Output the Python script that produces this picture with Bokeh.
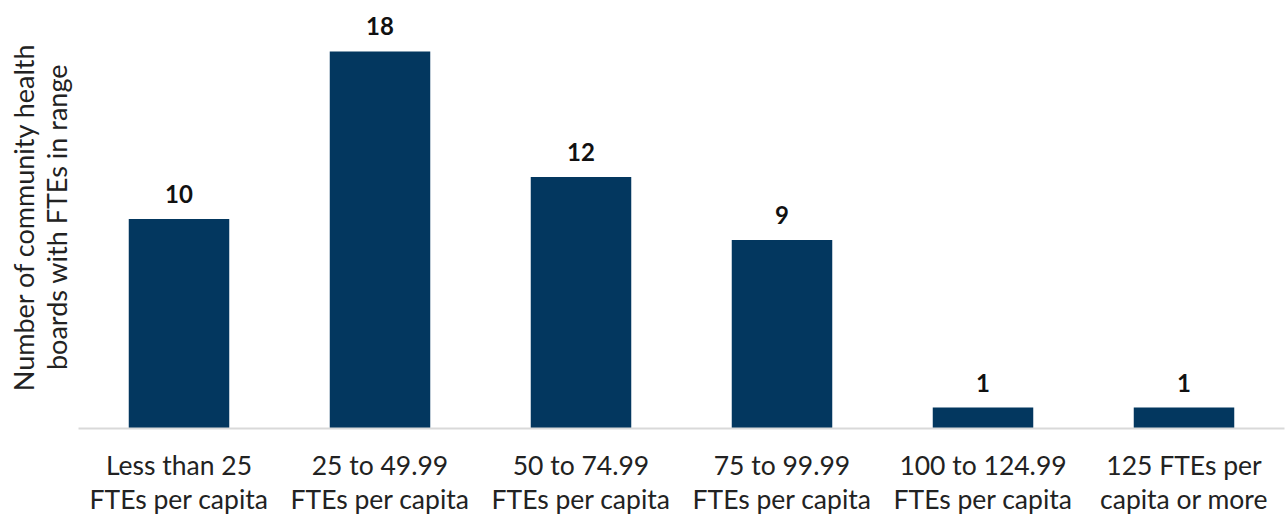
from bokeh.plotting import figure
from bokeh.models import ColumnDataSource, FactorRange, Range1d
from bokeh.core.properties import value
from bokeh.embed import file_html
from bokeh.resources import INLINE

categories = [
    "Less than 25\nFTEs per capita",
    "25 to 49.99\nFTEs per capita",
    "50 to 74.99\nFTEs per capita",
    "75 to 99.99\nFTEs per capita",
    "100 to 124.99\nFTEs per capita",
    "125 FTEs per\ncapita or more",
]
counts = [10, 18, 12, 9, 1, 1]
y_title = "Number of community health\nboards with FTEs in range"

FONT = "Lato"
BAR = "#03375f"

src = ColumnDataSource(dict(cat=categories, n=counts, lbl=[str(v) for v in counts]))

p = figure(
    width=1286, height=518,
    x_range=FactorRange(factors=categories, range_padding=0),
    y_range=Range1d(0, 20.19),
    output_backend="svg", toolbar_location=None,
    min_border_left=78, min_border_right=2, min_border_top=5, min_border_bottom=88,
)
p.outline_line_color = None
p.background_fill_color = "white"
p.border_fill_color = "white"
p.xgrid.visible = False
p.ygrid.visible = False

p.vbar(x="cat", top="n", width=0.5, source=src, fill_color=BAR, line_color=None)
p.text(x="cat", y="n", text="lbl", source=src, text_align="center",
       text_baseline="bottom", y_offset=-16,
       text_font=value(FONT), text_font_style="bold", text_font_size="24px",
       text_color="#111111")

xa = p.xaxis[0]
xa.axis_line_color = "#d9d9d9"
xa.axis_line_width = 2
xa.major_tick_line_color = None
xa.minor_tick_line_color = None
xa.major_label_text_font = FONT
xa.major_label_text_font_size = "26.5px"
xa.major_label_text_color = "#222222"
xa.major_label_standoff = 14
xa.major_label_text_line_height = 1.08

ya = p.yaxis[0]
ya.ticker = []
ya.axis_line_color = None
ya.major_tick_line_color = None
ya.minor_tick_line_color = None
ya.axis_label = y_title
ya.axis_label_text_font = FONT
ya.axis_label_text_font_size = "27px"
ya.axis_label_text_font_style = "normal"
ya.axis_label_text_color = "#222222"
ya.axis_label_text_line_height = 1.0
ya.axis_label_standoff = 6

open("out.html", "w").write(file_html(p, INLINE))
